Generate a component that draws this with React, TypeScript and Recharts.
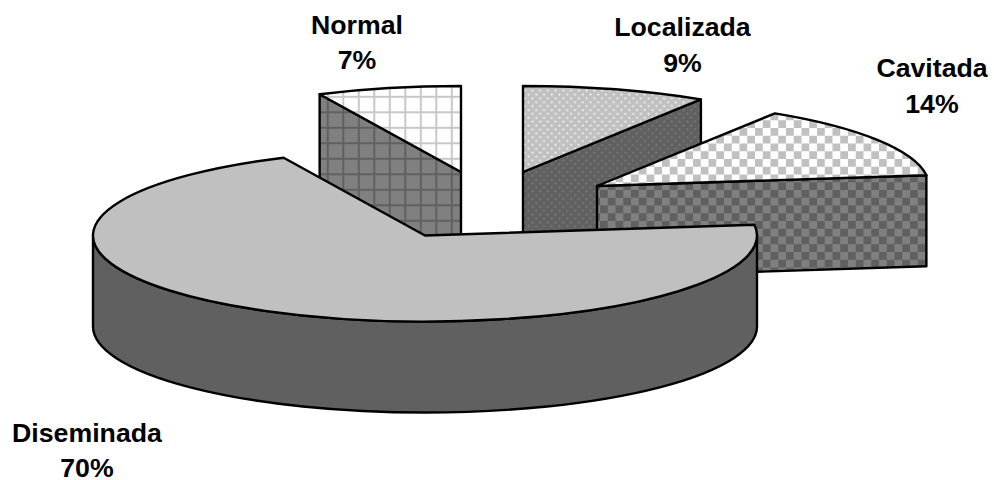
import { Pie, PieChart } from 'recharts'

const categories = ['Normal', 'Localizada', 'Cavitada', 'Diseminada']
const shares = [7, 9, 14, 70]

const chartData = categories.map((name, i) => ({ name, value: shares[i] }))

// ellipse and extrusion of the tilted pie
const CX = 425
const CY = 235.5
const RX = 332
const RY = 86
const DEPTH = 91

// how far each slice is pulled away from the pie centre
const explode: Record<string, { dx: number; dy: number }> = {
  Normal: { dx: 36, dy: -63.5 },
  Localizada: { dx: 98, dy: -63.5 },
  Cavitada: { dx: 172, dy: -49.5 },
  Diseminada: { dx: 0, dy: 0 },
}

const fills: Record<string, { top: string; side: string }> = {
  Normal: { top: 'url(#gridLight)', side: 'url(#gridDark)' },
  Localizada: { top: 'url(#dotsLight)', side: 'url(#dotsDark)' },
  Cavitada: { top: 'url(#checkLight)', side: 'url(#checkDark)' },
  Diseminada: { top: '#C0C0C0', side: '#606060' },
}

const labelAnchors: Record<string, { x: number; y: number }> = {
  Normal: { x: 357, y: 33.5 },
  Localizada: { x: 682.5, y: 36 },
  Cavitada: { x: 932, y: 77 },
  Diseminada: { x: 87, y: 441.5 },
}

const TILE = 15.5

function Patterns() {
  const half = TILE / 2
  const checker = (id: string, a: string, b: string) => (
    <pattern id={id} width={TILE} height={TILE} patternUnits="userSpaceOnUse" patternTransform="translate(600 190)">
      <rect width={TILE} height={TILE} fill={a} />
      <rect width={half} height={half} fill={b} />
      <rect x={half} y={half} width={half} height={half} fill={b} />
    </pattern>
  )
  const grid = (id: string, bg: string, line: string) => (
    <pattern id={id} width={TILE} height={TILE} patternUnits="userSpaceOnUse" patternTransform="translate(342.3 111.3)">
      <rect width={TILE} height={TILE} fill={bg} />
      <rect width={2} height={TILE} fill={line} />
      <rect width={TILE} height={2} fill={line} />
    </pattern>
  )
  const dots = (id: string, bg: string, dot: string) => (
    <pattern id={id} width={half} height={half} patternUnits="userSpaceOnUse">
      <rect width={half} height={half} fill={bg} />
      <circle cx={1.5} cy={1.5} r={1.1} fill={dot} />
      <circle cx={1.5 + half / 2} cy={1.5 + half / 2} r={1.1} fill={dot} />
    </pattern>
  )
  return (
    <defs>
      {grid('gridLight', '#FFFFFF', '#C8C8C8')}
      {grid('gridDark', '#808080', '#606060')}
      {dots('dotsLight', '#C0C0C0', '#F4F4F4')}
      {dots('dotsDark', '#606060', '#7C7C7C')}
      {checker('checkLight', '#FFFFFF', '#C0C0C0')}
      {checker('checkDark', '#808080', '#606060')}
    </defs>
  )
}

function Slice3D(props: any) {
  const { cx, cy, outerRadius, startAngle, endAngle, name, payload } = props
  const key = name ?? payload?.name
  const { dx, dy } = explode[key]
  const { top, side } = fills[key]
  const ax = cx + dx
  const ay = cy + dy
  const rx = outerRadius
  const ry = outerRadius * (RY / RX)
  const at = (deg: number) => {
    const t = (deg * Math.PI) / 180
    return { x: ax + rx * Math.cos(t), y: ay - ry * Math.sin(t) }
  }
  const arc = (from: number, to: number) => {
    const p = at(to)
    const large = Math.abs(from - to) > 180 ? 1 : 0
    return `A ${rx} ${ry} 0 ${large} 1 ${p.x} ${p.y}`
  }
  const s = at(startAngle)
  const e = at(endAngle)
  const wall = (p: { x: number; y: number }) =>
    `M ${ax} ${ay} L ${p.x} ${p.y} L ${p.x} ${p.y + DEPTH} L ${ax} ${ay + DEPTH} Z`

  const cosStart = Math.cos((startAngle * Math.PI) / 180)
  const cosEnd = Math.cos((endAngle * Math.PI) / 180)

  // rim facing the viewer only exists where the slice crosses the front half
  const frontFrom = Math.min(startAngle, 0)
  const frontTo = Math.max(endAngle, -180)
  const hasRim = frontFrom > frontTo
  const rf = at(frontFrom)
  const rt = at(frontTo)
  const rim = `M ${rf.x} ${rf.y} ${arc(frontFrom, frontTo)} L ${rt.x} ${rt.y + DEPTH} A ${rx} ${ry} 0 0 0 ${rf.x} ${rf.y + DEPTH} Z`

  const wedge = `M ${ax} ${ay} L ${s.x} ${s.y} ${arc(startAngle, endAngle)} Z`
  const line = { stroke: '#000', strokeWidth: 2.4, strokeLinejoin: 'round' as const }

  return (
    <g>
      {cosStart < -1e-6 && <path d={wall(s)} fill={side} {...line} />}
      {cosEnd > 1e-6 && <path d={wall(e)} fill={side} {...line} />}
      {hasRim && <path d={rim} fill={side} {...line} />}
      <path d={wedge} fill={top} {...line} />
    </g>
  )
}

function SliceLabel(props: any) {
  const { name, value } = props
  const { x, y } = labelAnchors[name]
  return (
    <text
      textAnchor="middle"
      fontFamily="'Liberation Sans', Arial, sans-serif"
      fontWeight="bold"
      fontSize={26.7}
      fill="#000"
    >
      <tspan x={x} y={y}>{name}</tspan>
      <tspan x={x} y={y + 35.5}>{`${value}%`}</tspan>
    </text>
  )
}

export default function App() {
  return (
    <div style={{ position: 'absolute', left: 0, top: 0, width: 994, height: 480, background: '#fff' }}>
      <PieChart width={994} height={480} margin={{ top: 0, right: 0, bottom: 0, left: 0 }}>
        <Patterns />
        <Pie
          data={chartData}
          dataKey="value"
          nameKey="name"
          cx={CX}
          cy={CY}
          innerRadius={0}
          outerRadius={RX}
          startAngle={115.2}
          endAngle={-244.8}
          stroke="none"
          isAnimationActive={false}
          shape={(props: any) => <Slice3D {...props} />}
          label={(props: any) => <SliceLabel {...props} />}
          labelLine={false}
        />
      </PieChart>
    </div>
  )
}
